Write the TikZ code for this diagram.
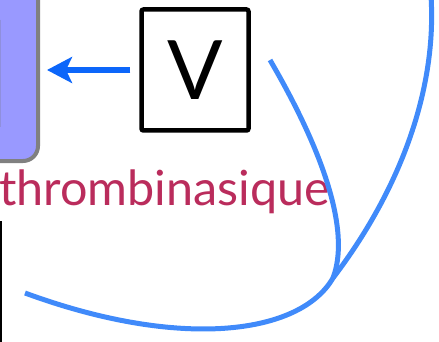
\documentclass[tikz,border=0pt]{standalone}
\usepackage{fontspec}
\setmainfont{Lato}
\usepackage{tikz}
\usetikzlibrary{arrows.meta, positioning}
\definecolor{boxblue}{RGB}{153,153,255}
\definecolor{boxgray}{RGB}{128,128,128}
\definecolor{arrblue}{RGB}{12,102,250}
\definecolor{curveblue}{RGB}{64,138,250}
\definecolor{crimson}{RGB}{186,44,92}

\begin{document}
\begin{tikzpicture}[x=1pt, y=-1pt,
    vbox/.style={draw, line width=4.5pt, rounded corners=2pt, minimum width=107pt, minimum height=121pt, inner sep=0pt, font=\fontsize{82}{82}\selectfont},
    lbl/.style={text=crimson, font=\fontsize{48.5}{48.5}\selectfont, inner sep=0pt},
    arr/.style={-{Stealth[length=25pt, width=26pt, inset=6pt]}, line width=6.5pt, arrblue},
    crv/.style={line width=5pt, curveblue}]
    \useasboundingbox (0,0) rectangle (439,342);
    % left box, partly outside the picture
    \draw[fill=boxblue, draw=boxgray, line width=4pt, rounded corners=15pt] (-40,-40) rectangle (38,161);
    \draw[boxblue!85!black!90, line width=0.8pt] (0.4,20) -- (0.4,127);
    \node[vbox] (v) at (195,70) {V};
    \coordinate (cible) at (47,70);
    \draw[arr] (v.west) ++(-9,0) coordinate (dep) -- (cible);
    \node[lbl, anchor=base west] (thr) at (-1,205) {thrombinasique};
    \draw[line width=2.5pt] (1,221) -- (1,345);
    % curves
    \coordinate (c1) at (270,60);
    \coordinate (jn) at (333,278);
    \coordinate (c2) at (431,-4);
    \coordinate (c3) at (25,293);
    \draw[crv] (c1) .. controls (305,120) and (355,220) .. (jn);
    \draw[crv] (c2) .. controls (437,90) and (400,190) .. (jn)
                    .. controls (300,335) and (180,350) .. (c3);
\end{tikzpicture}
\end{document}
